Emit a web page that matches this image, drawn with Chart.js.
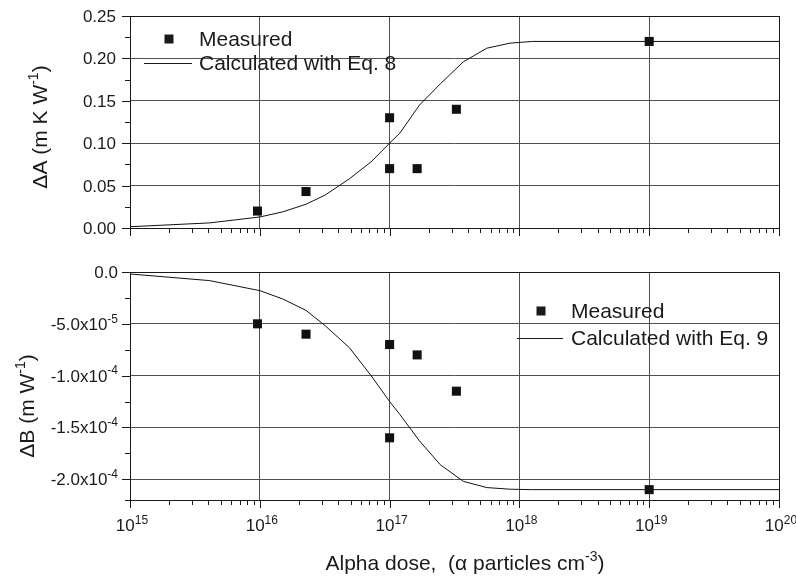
<!DOCTYPE html>
<html lang="en">
<head>
    <meta charset="UTF-8">
    <title>Alpha dose</title>
    <script src="https://cdn.jsdelivr.net/npm/chart.js"></script>
    <style>
        body {
            margin: 0;
            background: #fff;
        }
        .wrap {
            position: relative;
            width: 796px;
            height: 577px;
        }
        #topChart { position: absolute; left: 0; top: 0; }
        #bottomChart { position: absolute; left: 0; top: 250px; }
    </style>
</head>
<body>
<div class="wrap">
    <canvas id="topChart" width="796" height="250"></canvas>
    <canvas id="bottomChart" width="796" height="327"></canvas>
</div>
<script>
    // measured points (dose in alpha particles per cm3)
    const measuredDose = [9.6e15, 2.27e16, 1e17, 1e17, 1.63e17, 3.27e17, 1e19];
    const measuredA = [0.020, 0.043, 0.130, 0.070, 0.070, 0.140, 0.220];
    const measuredB = [-5.0e-5, -6.0e-5, -7.0e-5, -1.6e-4, -8.0e-5, -1.15e-4, -2.1e-4];

    // calculated curves (Eq. 8 and Eq. 9)
    const calcDose = [1e15, 4.1e15, 1e16, 1.5e16, 2.27e16, 3.2e16, 4.9e16, 7.2e16, 1e17, 1.2e17,
                      1.7e17, 2.46e17, 3.7e17, 5.6e17, 8.5e17, 1.26e18, 1e19, 1e20];
    const calcA = [0.0015, 0.006, 0.013, 0.019, 0.028, 0.039, 0.058, 0.078, 0.100, 0.112,
                   0.145, 0.170, 0.196, 0.212, 0.218, 0.220, 0.220, 0.220];
    const calcB = [-1.9e-6, -8.3e-6, -1.8e-5, -2.6e-5, -3.7e-5, -5.2e-5, -7.3e-5, -1.0e-4, -1.25e-4, -1.375e-4,
                   -1.63e-4, -1.86e-4, -2.02e-4, -2.08e-4, -2.096e-4, -2.1e-4, -2.1e-4, -2.1e-4];

    // axis ticks
    const decadeExps = [15, 16, 17, 18, 19, 20];
    const minorMantissas = [2, 3, 4, 5, 6, 7, 8, 9];
    const topYLabels = ['0.00', '0.05', '0.10', '0.15', '0.20', '0.25'];
    const bottomYBase = ['0.0', '-5.0x10', '-1.0x10', '-1.5x10', '-2.0x10'];
    const bottomYSup = ['', '-5', '-4', '-4', '-4'];

    const FONT = '"Liberation Sans", Arial, Helvetica, sans-serif';
    const INK = '#1a1a1a';
    const GRID = '#505050';

    function drawRich(ctx, parts, x, y, size, align) {
        const supSize = Math.round(size * 0.68);
        let total = 0;
        parts.forEach(p => {
            ctx.font = (p.sup ? supSize : size) + 'px ' + FONT;
            p.w = ctx.measureText(p.t).width;
            total += p.w;
        });
        let cx = align === 'center' ? x - total / 2 : (align === 'right' ? x - total : x);
        ctx.textAlign = 'left';
        ctx.textBaseline = 'alphabetic';
        ctx.fillStyle = INK;
        parts.forEach(p => {
            ctx.font = (p.sup ? supSize : size) + 'px ' + FONT;
            ctx.fillText(p.t, cx, p.sup ? y - size * 0.42 : y);
            cx += p.w;
        });
    }

    function isDecade(v) {
        const l = Math.log10(v);
        return Math.abs(l - Math.round(l)) < 1e-6;
    }

    function logTicks() {
        const out = [];
        decadeExps.forEach((e, i) => {
            out.push({ value: Math.pow(10, e) });
            if (i < decadeExps.length - 1) {
                minorMantissas.forEach(m => out.push({ value: m * Math.pow(10, e) }));
            }
        });
        return out;
    }

    function isMultiple(v, step) {
        const r = v / step;
        return Math.abs(r - Math.round(r)) < 1e-6;
    }

    // frame, tick marks, labels, titles and legend
    const decorate = {
        id: 'decorate',
        afterDraw(chart, args, o) {
            const ctx = chart.ctx;
            const a = chart.chartArea;
            const xs = chart.scales.x;
            const ys = chart.scales.y;
            ctx.save();
            ctx.strokeStyle = INK;
            ctx.lineWidth = 1;
            ctx.strokeRect(Math.round(a.left) + 0.5, Math.round(a.top) + 0.5,
                Math.round(a.right - a.left), Math.round(a.bottom - a.top));

            ctx.beginPath();
            xs.ticks.forEach(t => {
                const px = Math.round(xs.getPixelForValue(t.value)) + 0.5;
                const len = isDecade(t.value) ? 8 : 5;
                ctx.moveTo(px, a.bottom);
                ctx.lineTo(px, a.bottom + len);
            });
            ys.ticks.forEach(t => {
                const py = Math.round(ys.getPixelForValue(t.value)) + 0.5;
                const len = isMultiple(t.value, o.yMajor) ? 8 : 5;
                ctx.moveTo(a.left, py);
                ctx.lineTo(a.left - len, py);
            });
            ctx.stroke();

            // y tick labels
            ys.ticks.filter(t => isMultiple(t.value, o.yMajor))
                .sort((p, q) => Math.abs(p.value) - Math.abs(q.value))
                .forEach((t, i) => {
                    const py = ys.getPixelForValue(t.value);
                    drawRich(ctx, o.yLabel(i), o.yLabelX, py + 6, 17, 'right');
                });

            // x tick labels and title
            if (o.xLabels) {
                decadeExps.forEach(e => {
                    const px = xs.getPixelForValue(Math.pow(10, e));
                    drawRich(ctx, [{ t: '10' }, { t: String(e), sup: true }], px + 2, a.bottom + 31, 17, 'center');
                });
                drawRich(ctx, [{ t: 'Alpha dose,  (\u03b1 particles cm' }, { t: '-3', sup: true }, { t: ')' }],
                    465, 320, 21, 'center');
            }

            // y title
            ctx.save();
            ctx.translate(o.titleX + 7, o.titleY);
            ctx.rotate(-Math.PI / 2);
            drawRich(ctx, o.title, 0, 0, 21, 'center');
            ctx.restore();

            // legend
            const ds = chart.data.datasets;
            const L = o.legend;
            ctx.fillStyle = INK;
            ctx.fillRect(L.markX - 4.5, L.markY - 4.5, 9, 9);
            drawRich(ctx, [{ t: ds[0].label }], L.textX, L.markY + 7, 21, 'left');
            ctx.beginPath();
            ctx.strokeStyle = INK;
            ctx.moveTo(L.lineX0, Math.round(L.lineY) + 0.5);
            ctx.lineTo(L.lineX1, Math.round(L.lineY) + 0.5);
            ctx.stroke();
            drawRich(ctx, [{ t: ds[1].label }], L.textX, L.lineY + 7, 21, 'left');
            ctx.restore();
        }
    };

    const pts = (xsArr, ysArr) => xsArr.map((x, i) => ({ x: x, y: ysArr[i] }));

    function makeConfig(meas, calc, eq, yOpts, deco, padTop, xHeight) {
        return {
            type: 'scatter',
            data: {
                datasets: [{
                    label: 'Measured',
                    data: pts(measuredDose, meas),
                    pointStyle: 'rect',
                    pointRadius: 6.4,
                    backgroundColor: '#111',
                    borderColor: '#111',
                    borderWidth: 0
                }, {
                    label: 'Calculated with Eq. ' + eq,
                    data: pts(calcDose, calc),
                    showLine: true,
                    pointRadius: 0,
                    borderColor: '#111',
                    borderWidth: 1,
                    tension: 0
                }]
            },
            options: {
                responsive: false,
                animation: false,
                events: [],
                layout: { padding: { top: padTop, right: 17, left: 0, bottom: 0 } },
                plugins: {
                    legend: { display: false },
                    tooltip: { enabled: false },
                    decorate: deco
                },
                scales: {
                    x: {
                        type: 'logarithmic',
                        min: 1e15,
                        max: 1e20,
                        afterBuildTicks: s => { s.ticks = logTicks(); },
                        afterFit: s => { s.height = xHeight; },
                        ticks: { display: false },
                        border: { display: false },
                        grid: {
                            drawTicks: false,
                            color: c => (c.tick && isDecade(c.tick.value)) ? GRID : 'rgba(0,0,0,0)'
                        }
                    },
                    y: Object.assign({
                        afterFit: s => { s.width = 130; },
                        ticks: { display: false, stepSize: yOpts.step },
                        border: { display: false },
                        grid: {
                            drawTicks: false,
                            color: c => (c.tick && isMultiple(c.tick.value, yOpts.major)) ? GRID : 'rgba(0,0,0,0)'
                        }
                    }, yOpts.range)
                }
            },
            plugins: [decorate]
        };
    }

    new Chart(document.getElementById('topChart'), makeConfig(
        measuredA, calcA, 8,
        { step: 0.025, major: 0.05, range: { min: 0, max: 0.25 } },
        {
            yMajor: 0.05,
            yLabelX: 116,
            yLabel: i => [{ t: topYLabels[i] }],
            xLabels: false,
            titleX: 40,
            titleY: 127,
            title: [{ t: '\u0394A (m K W' }, { t: '-1', sup: true }, { t: ')' }],
            legend: { markX: 169, markY: 39, textX: 199, lineX0: 144, lineX1: 192, lineY: 63 }
        },
        16, 22
    ));

    new Chart(document.getElementById('bottomChart'), makeConfig(
        measuredB, calcB, 9,
        { step: 2.5e-5, major: 5e-5, range: { min: -2.2e-4, max: 0 } },
        {
            yMajor: 5e-5,
            yLabelX: 118,
            yLabel: i => [{ t: bottomYBase[i] }, { t: bottomYSup[i], sup: true }],
            xLabels: true,
            titleX: 27,
            titleY: 156,
            title: [{ t: '\u0394B (m W' }, { t: '-1', sup: true }, { t: ')' }],
            legend: { markX: 541, markY: 61, textX: 571, lineX0: 517, lineX1: 563, lineY: 88 }
        },
        22, 77
    ));
</script>
</body>
</html>
